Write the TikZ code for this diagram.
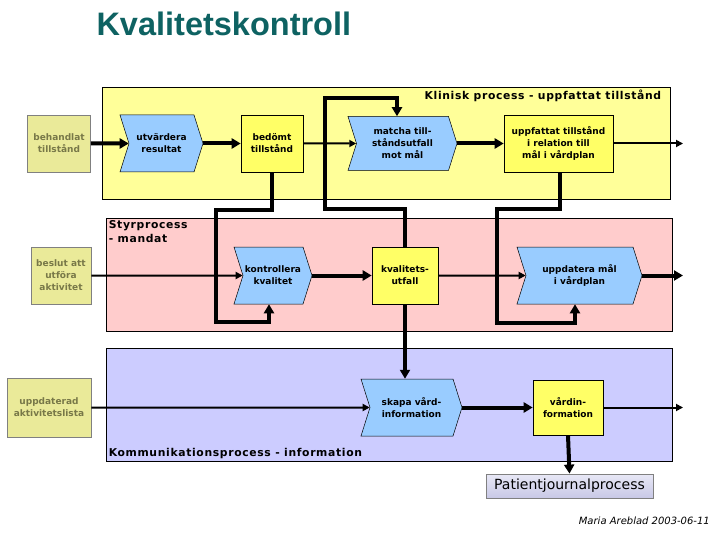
\documentclass[tikz,border=0pt]{standalone}
\usepackage{fontspec}
\setmainfont{DejaVu Sans}
\newfontfamily\titlefont{Liberation Sans}
\newfontfamily\lblfont[LetterSpace=6]{DejaVu Sans}
\usetikzlibrary{shapes.symbols,arrows.meta}

\definecolor{klinbg}{HTML}{FFFF99}
\definecolor{styrbg}{HTML}{FFCCCC}
\definecolor{kommbg}{HTML}{CCCCFF}
\definecolor{fnblue}{HTML}{99CCFF}
\definecolor{resyellow}{HTML}{FFFF66}
\definecolor{extfill}{HTML}{EAEA99}
\definecolor{exttext}{HTML}{787848}
\definecolor{titleteal}{HTML}{0E6262}

\tikzset{
  panel/.style={rectangle, draw, line width=0.8pt},
  panellbl/.style={font=\lblfont\bfseries\fontsize{10.8}{13.5}\selectfont, inner sep=0pt, align=left},
  fn/.style={signal, signal from=west, signal to=east, signal pointer angle=145,
    draw, line width=0.5pt, fill=fnblue, inner sep=0pt, align=center,
    font=\bfseries\fontsize{9}{12}\selectfont},
  res/.style={rectangle, draw, line width=0.6pt, fill=resyellow, inner sep=0pt,
    align=center, font=\bfseries\fontsize{9}{12}\selectfont},
  ext/.style={rectangle, draw=gray, line width=0.8pt, fill=extfill, text=exttext,
    inner sep=0pt, align=center, font=\bfseries\fontsize{9}{12}\selectfont},
  thk/.style={line width=4pt, -{Triangle[length=9pt,width=10pt]}},
  thn/.style={line width=2pt, -{Triangle[length=7pt,width=7pt]}},
}

\begin{document}
\begin{tikzpicture}[x=1pt,y=-1pt]
\useasboundingbox (0,0) rectangle (720,540);

\node[font=\titlefont\bfseries\fontsize{32.5}{36}\selectfont, text=titleteal, anchor=west] (title) at (93,24) {Kvalitetskontroll};

% process panels
\node[panel, fill=klinbg, minimum width=568pt, minimum height=112pt] (klin) at (386,143) {};
\node[panel, fill=styrbg, minimum width=566pt, minimum height=113pt] (styr) at (389,274.5) {};
\node[panel, fill=kommbg, minimum width=566pt, minimum height=113pt] (komm) at (389,404.5) {};
\node[panellbl, anchor=north east] (klinlbl) at ([xshift=-9pt,yshift=-3pt]klin.north east) {Klinisk process - uppfattat tillstånd};
\node[panellbl, anchor=north west] (styrlbl) at ([xshift=3pt,yshift=-3pt]styr.north west) {Styrprocess\\- mandat};
\node[panellbl, anchor=south west] (kommlbl) at ([xshift=3pt,yshift=2pt]komm.south west) {Kommunikationsprocess - information};

% inputs
\node[ext, minimum width=63pt, minimum height=57pt] (beh) at (59,143.5) {behandlat\\tillstånd};
\node[ext, minimum width=60pt, minimum height=57pt] (besl) at (61,275.5) {beslut att\\utföra\\aktivitet};
\node[ext, minimum width=84pt, minimum height=59pt] (uppd) at (49,407.5) {uppdaterad\\aktivitetslista};

% klinisk process
\node[fn, minimum width=83pt, minimum height=57pt] (utv) at (161.5,143.5) {utvärdera\\resultat};
\node[res, minimum width=62pt, minimum height=57pt] (bed) at (272,143.5) {bedömt\\tillstånd};
\node[fn, minimum width=109pt, minimum height=54pt] (mat) at (402.5,143.5) {matcha till-\\ståndsutfall\\mot mål};
\node[res, minimum width=109pt, minimum height=57pt] (upf) at (558.5,143.5) {uppfattat tillstånd\\i relation till\\mål i vårdplan};

% styrprocess
\node[fn, minimum width=78pt, minimum height=57pt] (kon) at (273,275.5) {kontrollera\\kvalitet};
\node[res, minimum width=66pt, minimum height=57pt] (kva) at (405,275.5) {kvalitets-\\utfall};
\node[fn, minimum width=125pt, minimum height=57pt] (upm) at (579.5,275.5) {uppdatera mål\\i vårdplan};

% kommunikationsprocess
\node[fn, minimum width=101pt, minimum height=57pt] (ska) at (411.5,407.5) {skapa vård-\\information};
\node[res, minimum width=70pt, minimum height=55pt] (vin) at (568,407.5) {vårdin-\\formation};
\node[draw=gray, line width=0.8pt, top color={rgb,255:red,232;green,232;blue,246}, bottom color={rgb,255:red,200;green,200;blue,230},
  minimum width=167pt, minimum height=24pt, inner sep=0pt, font=\fontsize{14}{16}\selectfont] (pat) at (569.5,486) {Patientjournalprocess};
\node[anchor=east, inner sep=0pt, font=\itshape\fontsize{10}{12}\selectfont] (sign) at (710,521) {Maria Areblad 2003-06-11};

\coordinate (ut1) at (683,143.5);
\coordinate (ut2) at (683,275.5);
\coordinate (ut3) at (683,407.5);

% flow
\draw[thk] (beh.east) -- (utv);
\draw[thk] (utv.east) -- (bed.west);
\draw[thn] (bed.east) -- (mat);
\draw[thk] (mat.east) -- (upf.west);
\draw[thn] (upf.east) -- (ut1);
\draw[thn] (besl.east) -- (kon);
\draw[thk] (kon.east) -- (kva.west);
\draw[thn] (kva.east) -- (upm);
\draw[thk] (upm.east) -- (ut2);
\draw[thn] (uppd.east) -- (ska);
\draw[thk] (ska.east) -- (vin.west);
\draw[thn] (vin.east) -- (ut3);
\draw[thk] (vin.south) -- (pat.north);
\draw[thk] (kva.south) -- (kva.south |- ska.north);

% feedback
\draw[thk] (bed.south) |- (216,210) |- (269,322) -- ([xshift=-4pt]kon.south);
\draw[thk] (kva.north) |- (325,209) |- (397,98) -- ([xshift=-5.5pt]mat.north);
\draw[thk] ([xshift=1.5pt]upf.south) |- (497,209) |- (575,323) -- ([xshift=-4.5pt]upm.south);
\end{tikzpicture}
\end{document}
